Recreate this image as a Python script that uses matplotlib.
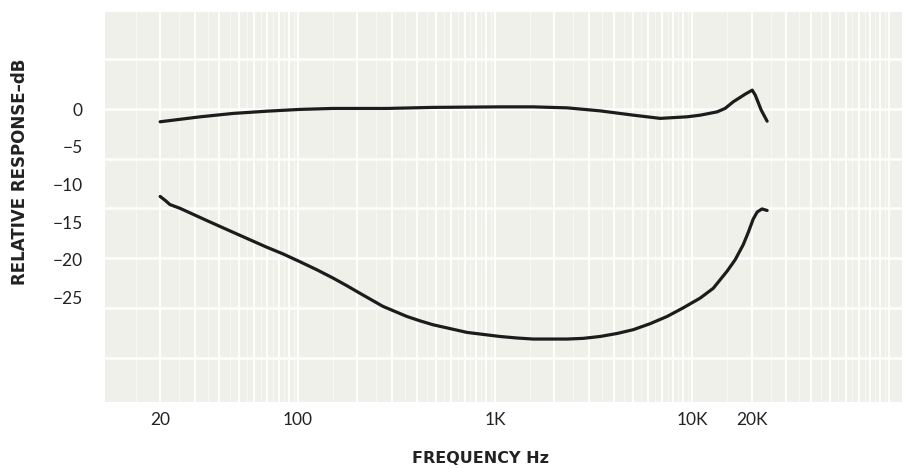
import numpy as np
import matplotlib
matplotlib.use("Agg")
import matplotlib.pyplot as plt

plt.rcParams['font.family'] = ['Lato', 'DejaVu Sans']

# flat (upper) response
flat_hz = [20, 32, 47, 70, 102, 150, 283, 484, 1060, 1560, 2320, 3410,
           5020, 6880, 9430, 11000, 13400, 14700, 16150, 18580, 20170,
           20900, 22400, 24000]
flat_db = [-1.68, -1.02, -0.57, -0.27, -0.04, 0.09, 0.09, 0.23, 0.30, 0.30,
           0.17, -0.23, -0.80, -1.23, -1.02, -0.80, -0.36, 0.10, 0.97, 1.99,
           2.52, 1.86, -0.13, -1.60]

# dipped (lower) response
dip_hz = [20, 21.4, 22.4, 23.8, 25.2, 34.5, 46.8, 69.6, 84, 102, 125, 151,
          177, 206, 270, 357, 416, 484, 721, 1060, 1290, 1560, 2320, 2800,
          3410, 4160, 5020, 6120, 7460, 9000, 10980, 12790, 15060, 16530,
          18160, 19240, 20400, 21380, 22600, 24000]
dip_db = [-11.60, -12.20, -12.67, -12.93, -13.17, -14.80, -16.35, -18.35,
          -19.23, -20.25, -21.35, -22.45, -23.45, -24.45, -26.20, -27.54,
          -28.12, -28.64, -29.66, -30.20, -30.40, -30.54, -30.54, -30.45,
          -30.20, -29.80, -29.30, -28.50, -27.54, -26.40, -25.10, -23.80,
          -21.50, -20.00, -18.00, -16.40, -14.60, -13.66, -13.26, -13.46]

x_ticks = [20, 100, 1000, 10000, 20000]
x_labels = ['20', '100', '1K', '10K', '20K']
y_ticks = [0, -5, -10, -15, -20, -25]
y_labels = ['0', '\u22125', '\u221210', '\u221215', '\u221220', '\u221225']

fig = plt.figure(figsize=(9.08, 4.69), dpi=100)
ax = fig.add_axes([0.1156, 0.1429, 0.8778, 0.8315])
ax.set_xscale('log')
ax.set_xlim(10.5, 116000)
ax.set_ylim(-38.9, 12.9)
ax.set_facecolor('#f0f0eb')

# log graph-paper rulings
for dec in [10, 100, 1000, 10000, 100000]:
    for k in range(1, 10):
        ax.axvline(k * dec, color='white', lw=1.4, alpha=0.9, zorder=1)
        ax.axvline((k + 0.5) * dec, color='white', lw=0.7, alpha=0.5, zorder=1)
for v in np.arange(-33.0, 8.0, 6.6):
    ax.axhline(v, color='white', lw=1.8, alpha=0.95, zorder=1)

for hz, db in [(flat_hz, flat_db), (dip_hz, dip_db)]:
    ax.plot(hz, db, color='#1c1c1c', lw=2.3, solid_capstyle='round',
            solid_joinstyle='round', zorder=3)

ax.set_xticks(x_ticks)
ax.set_xticklabels(x_labels)
ax.xaxis.set_minor_locator(matplotlib.ticker.NullLocator())
ax.set_yticks(y_ticks)
ax.set_yticklabels(y_labels)
ax.tick_params(length=0, labelsize=12.5, labelcolor='#222222')
ax.tick_params(axis='x', pad=7)
ax.tick_params(axis='y', pad=16)
for s in ax.spines.values():
    s.set_visible(False)

fig.text(0.022, 0.633, 'RELATIVE RESPONSE\u2013dB', rotation=90, ha='center',
         va='center', fontsize=12, fontweight='bold', color='#222222',
         family='DejaVu Sans')
fig.text(0.529, 0.023, 'FREQUENCY Hz', ha='center', va='center',
         fontsize=11.5, fontweight='bold', color='#222222',
         family='DejaVu Sans')

fig.savefig('out.png', dpi=100)
